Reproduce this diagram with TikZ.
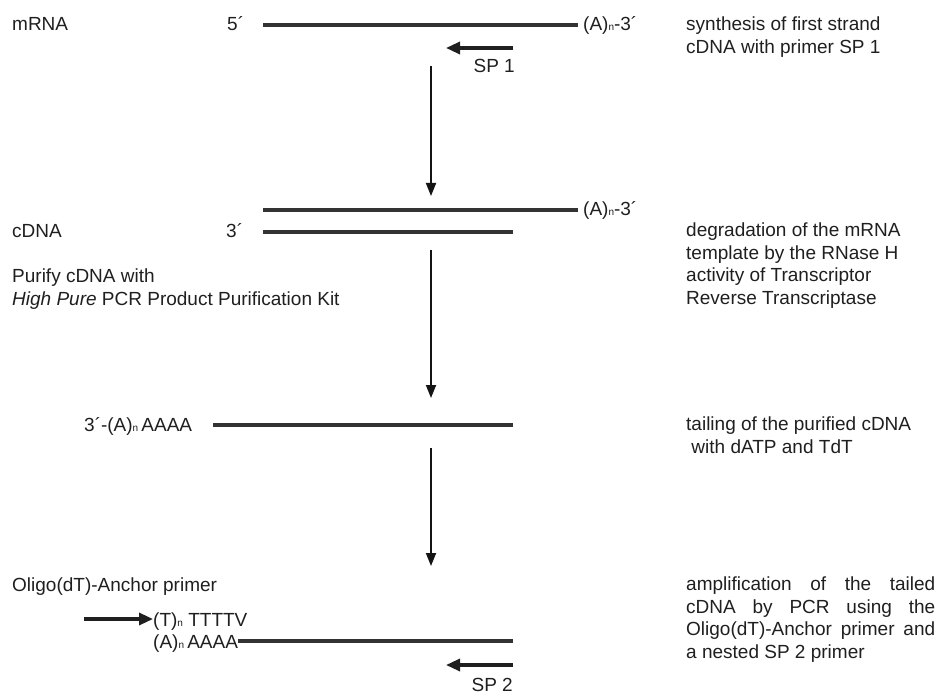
\documentclass[tikz,border=0pt]{standalone}
\usepackage{fontspec}
\setmainfont{Liberation Sans}
\usetikzlibrary{arrows.meta}
\newcommand{\subn}{{\fontsize{10}{10}\selectfont n}}
\begin{document}
\begin{tikzpicture}[x=1pt,y=-1pt,
  font=\fontsize{19}{22.5}\selectfont,
  lbl/.style={anchor=base west, inner sep=0pt, text=black!88},
  lblr/.style={anchor=base east, inner sep=0pt, text=black!88},
  strand/.style={line width=3.2pt, draw=black!80},
  primer/.style={line width=3.2pt, draw=black!88, -{Triangle[length=14pt,width=12pt]}},
  flow/.style={line width=1.8pt, draw=black!92, -{Triangle[length=13pt,width=10pt]}},
  note/.style={anchor=north west, inner sep=0pt, text=black!88, align=left}]
\useasboundingbox (0,0) rectangle (936,695);

% ---------- row 1: mRNA ----------
\node[lbl] (mrna) at (12,31) {mRNA};
\node[lbl] (p5) at (227,31) {5´};
\coordinate (m1) at (263,25);
\coordinate (m2) at (578,25);
\draw[strand] (m1) -- (m2);
\node[lbl] (a1) at (583,31) {(A)\subn-3´};
\coordinate (sp1s) at (513,48);
\coordinate (sp1e) at (446,48);
\draw[primer] (sp1s) -- (sp1e);
\node[lblr] (sp1) at (515,73) {SP 1};
\node[note] (t1) at (686,17) {synthesis of first strand\\cDNA with primer SP 1};

\coordinate (v1s) at (431,66);
\coordinate (v1e) at (431,196);
\draw[flow] (v1s) -- (v1e);

% ---------- row 2: cDNA ----------
\coordinate (c1) at (263,210);
\coordinate (c2) at (578,210);
\draw[strand] (c1) -- (c2);
\node[lbl] (a2) at (583,215) {(A)\subn-3´};
\coordinate (d1) at (263,232);
\coordinate (d2) at (513,232);
\draw[strand] (d1) -- (d2);
\node[lbl] (cdna) at (12,237) {cDNA};
\node[lbl] (p3) at (226,237) {3´};
\node[note] (pur) at (12,269) {Purify cDNA with\\\textit{High Pure} PCR Product Purification Kit};
\node[note] (t2) at (686,223) {degradation of the mRNA\\template by the RNase H\\activity of Transcriptor\\Reverse Transcriptase};

\coordinate (v2s) at (431,250);
\coordinate (v2e) at (431,398);
\draw[flow] (v2s) -- (v2e);

% ---------- row 3: tailing ----------
\node[lbl] (tail) at (84,431) {3´-(A)\subn\,AAAA};
\coordinate (e1) at (213,425);
\coordinate (e2) at (513,425);
\draw[strand] (e1) -- (e2);
\node[note] (t3) at (686,417) {tailing of the purified cDNA\\\ with dATP and TdT};

\coordinate (v3s) at (431,448);
\coordinate (v3e) at (431,566);
\draw[flow] (v3s) -- (v3e);

% ---------- row 4: amplification ----------
\node[lbl] (olig) at (12,591) {Oligo(dT)-Anchor primer};
\coordinate (o1) at (84,619);
\node[lbl] (tt) at (153,626) {(T)\subn\ TTTTV};
\draw[primer] (o1) -- (tt.west |- o1);
\node[lbl] (aa) at (153,648) {(A)\subn\,AAAA};
\coordinate (f2) at (513,641);
\draw[strand] (aa.east |- f2) -- (f2);
\coordinate (sp2s) at (513,665);
\coordinate (sp2e) at (446,665);
\draw[primer] (sp2s) -- (sp2e);
\node[lblr] (sp2) at (513,691) {SP 2};
\node[note] (t4) at (686,577) {%
  \makebox[249pt][s]{amplification of the tailed}\\
  \makebox[249pt][s]{cDNA by PCR using the}\\
  \makebox[249pt][s]{Oligo(dT)-Anchor primer and}\\
  a nested SP 2 primer};
\end{tikzpicture}
\end{document}
